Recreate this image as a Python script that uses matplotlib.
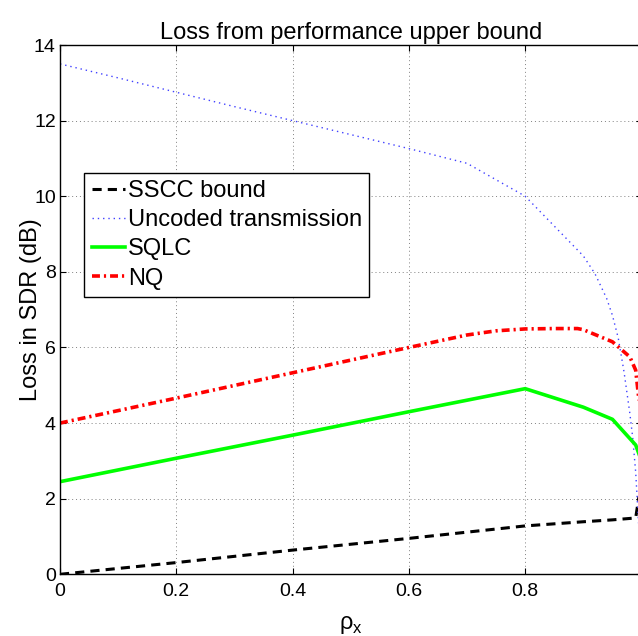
import numpy as np
import matplotlib
matplotlib.use('Agg')
import matplotlib.pyplot as plt

plt.rcParams['font.family'] = ['Liberation Sans', 'DejaVu Sans']
plt.rcParams['mathtext.fontset'] = 'custom'
plt.rcParams['mathtext.rm'] = 'Liberation Sans'

# loss from upper bound (dB) vs correlation coefficient rho_x
rho_sscc = [0, 0.2, 0.4, 0.6, 0.8, 0.9, 0.95, 0.99, 1.0]
loss_sscc = [0, 0.31, 0.64, 0.95, 1.28, 1.39, 1.44, 1.49, 2.5]

rho_unc = [0, 0.1, 0.2, 0.3, 0.4, 0.5, 0.6, 0.7, 0.8, 0.9, 0.92, 0.94, 0.95,
           0.96, 0.97, 0.98, 0.985, 0.99, 1.0]
loss_unc = [13.5, 13.13, 12.75, 12.37, 12.0, 11.63, 11.26, 10.87, 10.0, 8.42,
            7.95, 7.3, 6.85, 6.25, 5.35, 4.25, 3.6, 2.7, 0.0]

rho_sqlc = [0, 0.2, 0.4, 0.6, 0.8, 0.9, 0.95, 0.99, 1.0]
loss_sqlc = [2.45, 3.07, 3.68, 4.3, 4.91, 4.42, 4.1, 3.42, 3.0]

rho_nq = [0, 0.2, 0.4, 0.6, 0.7, 0.75, 0.8, 0.85, 0.89, 0.9, 0.95, 0.98, 0.99, 1.0]
loss_nq = [4.0, 4.66, 5.33, 6.0, 6.33, 6.44, 6.49, 6.5, 6.5, 6.47, 6.15, 5.75,
           5.4, 4.0]

labels = ['SSCC bound', 'Uncoded transmission', 'SQLC', 'NQ']

fig = plt.figure(figsize=(6.38, 6.36), dpi=100)
W, H = 638.0, 636.0
ax = fig.add_axes([60 / W, (H - 574.3) / H, 581.5 / W, (574.3 - 45) / H])

ax.plot(rho_sscc, loss_sscc, color='k', lw=2.2, linestyle=(0, (3, 2)), label=labels[0])
ax.plot(rho_unc, loss_unc, color=(0.25, 0.25, 1.0), lw=1.0, linestyle=(0, (1, 2.8)), label=labels[1])
ax.plot(rho_sqlc, loss_sqlc, color=(0, 1, 0), lw=2.6, linestyle='-', label=labels[2])
ax.plot(rho_nq, loss_nq, color=(1, 0, 0), lw=2.6, linestyle=(0, (2.2, 1.1, 0.6, 1.1)), label=labels[3])

ax.set_xlim(0, 1)
ax.set_ylim(0, 14)
ax.set_xticks(np.arange(0, 1.01, 0.2))
ax.set_xticklabels(['0', '0.2', '0.4', '0.6', '0.8', '1'])
ax.set_yticks(np.arange(0, 15, 2))

ax.grid(True, color='0.5', linestyle=(0, (1, 3)), linewidth=0.7)
ax.set_axisbelow(True)
ax.tick_params(direction='in', length=4, width=0.8, top=True, right=True,
               labelsize=14, pad=3)
ax.tick_params(axis='x', pad=6)
for s in ax.spines.values():
    s.set_linewidth(1.0)

ax.set_title('Loss from performance upper bound', fontsize=17, pad=4)
ax.set_ylabel('Loss in SDR (dB)', fontsize=17, labelpad=-6)
ax.set_xlabel(r'ρ$_\mathrm{x}$', fontsize=17, labelpad=10)

leg = ax.legend(loc='upper left', bbox_to_anchor=(0.0421, 0.7587), borderaxespad=0,
                fontsize=17, fancybox=False, framealpha=1, edgecolor='k',
                handlelength=1.4, handletextpad=0.15, borderpad=0.3,
                labelspacing=0.31)
leg.get_frame().set_linewidth(1.0)

fig.savefig('out.png', dpi=100)
